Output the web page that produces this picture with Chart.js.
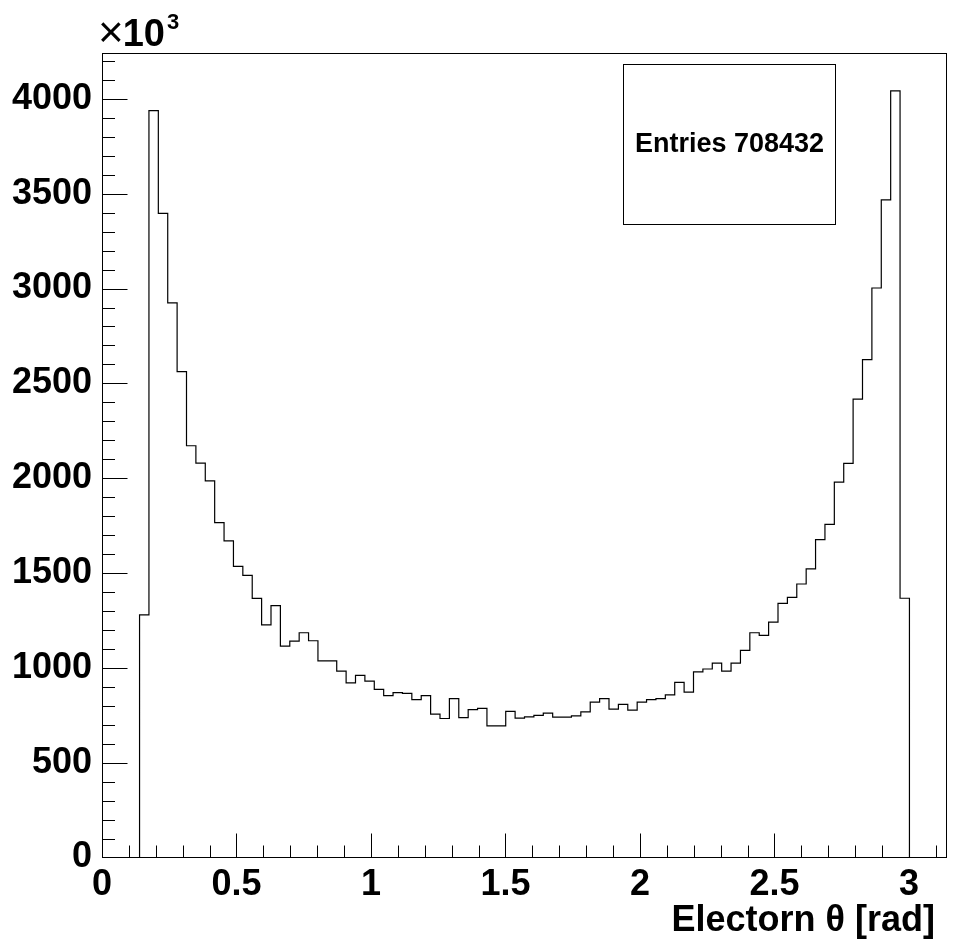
<!DOCTYPE html>
<html>
<head>
<meta charset="utf-8">
<script src="https://cdn.jsdelivr.net/npm/chart.js@4.4.0/dist/chart.umd.min.js"></script>
<style>
  body { margin: 0; background: #fff; }
  #c { display: block; }
</style>
</head>
<body>
<canvas id="c" width="953" height="939"></canvas>
<script>
// binning of the histogram (theta from 0 to pi)
const NBINS = 90;
const XMIN = 0;
const XMAX = Math.PI;

// bin contents, in units of 10^3
const binCounts = [
  0, 0, 0, 0, 1279, 3938, 3396, 2924, 2562, 2171,
  2079, 1986, 1766, 1669, 1535, 1488, 1366, 1227, 1328, 1115,
  1141, 1185, 1143, 1037, 1037, 983, 921, 960, 930, 886,
  854, 869, 865, 832, 854, 756, 733, 838, 738, 780,
  786, 694, 694, 770, 735, 742, 749, 761, 740, 740,
  747, 768, 819, 838, 782, 807, 777, 819, 832, 838,
  858, 923, 872, 979, 994, 1025, 983, 1025, 1092, 1185,
  1171, 1241, 1340, 1372, 1442, 1522, 1676, 1757, 1979, 2078,
  2417, 2625, 3003, 3468, 4042, 1367, 0, 0, 0, 0
];

const xTickValues = [0, 0.5, 1, 1.5, 2, 2.5, 3];
const yTickValues = [0, 500, 1000, 1500, 2000, 2500, 3000, 3500, 4000];
const yMax = 4242;
const xTitle = 'Electorn \u03b8 [rad]';
const entriesText = 'Entries 708432';

const FONT = "'Liberation Sans', Arial, Helvetica, sans-serif";

// points on bin low edges, stepped line gives the histogram outline
const binWidth = (XMAX - XMIN) / NBINS;
const histPoints = binCounts.map((v, k) => ({ x: XMIN + k * binWidth, y: v }));
histPoints.push({ x: XMAX, y: 0 });

// ROOT like frame: box, inward ticks, axis title, exponent and stats box
const rootFrame = {
  id: 'rootFrame',
  afterDraw(chart) {
    const ctx = chart.ctx;
    const area = chart.chartArea;
    const xs = chart.scales.x;
    const ys = chart.scales.y;
    const L = Math.round(area.left) + 0.5;
    const R = Math.round(area.right) - 0.5;
    const T = Math.round(area.top) + 0.5;
    const B = area.bottom; // same pixel row as the zero level of the histogram

    ctx.save();
    ctx.strokeStyle = '#000';
    ctx.lineWidth = 1;
    ctx.strokeRect(L, T, R - L, B - T);

    // y ticks every 100, major every 500 (the one at 0 sits on the axis)
    ctx.beginPath();
    for (let v = 100; v <= yMax; v += 100) {
      const y = Math.round(ys.getPixelForValue(v)) + 0.5;
      const len = v % 500 === 0 ? 25 : 12.5;
      ctx.moveTo(L, y);
      ctx.lineTo(L + len, y);
    }
    // x ticks every 0.1, major every 0.5
    for (let i = 0; i * 0.1 <= XMAX; i++) {
      const x = Math.round(xs.getPixelForValue(i * 0.1)) + 0.5;
      const len = i % 5 === 0 ? 24 : 12;
      ctx.moveTo(x, B);
      ctx.lineTo(x, B - len);
    }
    ctx.stroke();

    // axis title
    ctx.fillStyle = '#000';
    ctx.font = 'bold 36px ' + FONT;
    ctx.textAlign = 'right';
    ctx.textBaseline = 'alphabetic';
    ctx.fillText(xTitle, 935, 931);

    // x10^3 on top of the y axis
    ctx.textAlign = 'left';
    ctx.font = '44px ' + FONT;
    ctx.fillText('\u00d7', 98, 47);
    let px = 98 + ctx.measureText('\u00d7').width - 1;
    ctx.font = 'bold 38px ' + FONT;
    ctx.fillText('10', px, 46);
    px += ctx.measureText('10').width + 2;
    ctx.font = 'bold 22px ' + FONT;
    ctx.fillText('3', px, 29);

    // stats box
    const bx = 623.5, by = 64.5, bw = 212, bh = 160;
    ctx.fillStyle = '#fff';
    ctx.fillRect(bx, by, bw, bh);
    ctx.strokeRect(bx, by, bw, bh);
    ctx.fillStyle = '#000';
    ctx.font = 'bold 27px ' + FONT;
    ctx.textAlign = 'center';
    ctx.textBaseline = 'middle';
    ctx.fillText(entriesText, bx + bw / 2, by + bh / 2);
    ctx.restore();
  }
};

new Chart(document.getElementById('c'), {
  type: 'line',
  data: {
    datasets: [{
      data: histPoints,
      stepped: true,
      borderColor: '#000',
      borderWidth: 1.2,
      pointRadius: 0,
      fill: false,
      tension: 0
    }]
  },
  options: {
    responsive: false,
    animation: false,
    layout: { padding: { left: 0, top: 53, right: 6, bottom: 0 } },
    plugins: {
      legend: { display: false },
      tooltip: { enabled: false },
      title: { display: false }
    },
    scales: {
      x: {
        type: 'linear',
        min: XMIN,
        max: XMAX,
        grid: { display: false, drawTicks: false },
        border: { display: false },
        afterBuildTicks: (s) => { s.ticks = xTickValues.map(v => ({ value: v })); },
        afterFit: (s) => { s.height = 81.5; },
        ticks: {
          autoSkip: false,
          maxRotation: 0,
          padding: 6,
          color: '#000',
          font: { family: FONT, size: 36, weight: 'bold' },
          callback: (v) => String(v)
        }
      },
      y: {
        type: 'linear',
        min: 0,
        max: yMax,
        grid: { display: false, drawTicks: false },
        border: { display: false },
        afterBuildTicks: (s) => { s.ticks = yTickValues.map(v => ({ value: v })); },
        afterFit: (s) => { s.width = 102; },
        ticks: {
          padding: 10,
          color: '#000',
          font: { family: FONT, size: 36, weight: 'bold' },
          callback: (v) => String(v)
        }
      }
    }
  },
  plugins: [rootFrame]
});
</script>
</body>
</html>
